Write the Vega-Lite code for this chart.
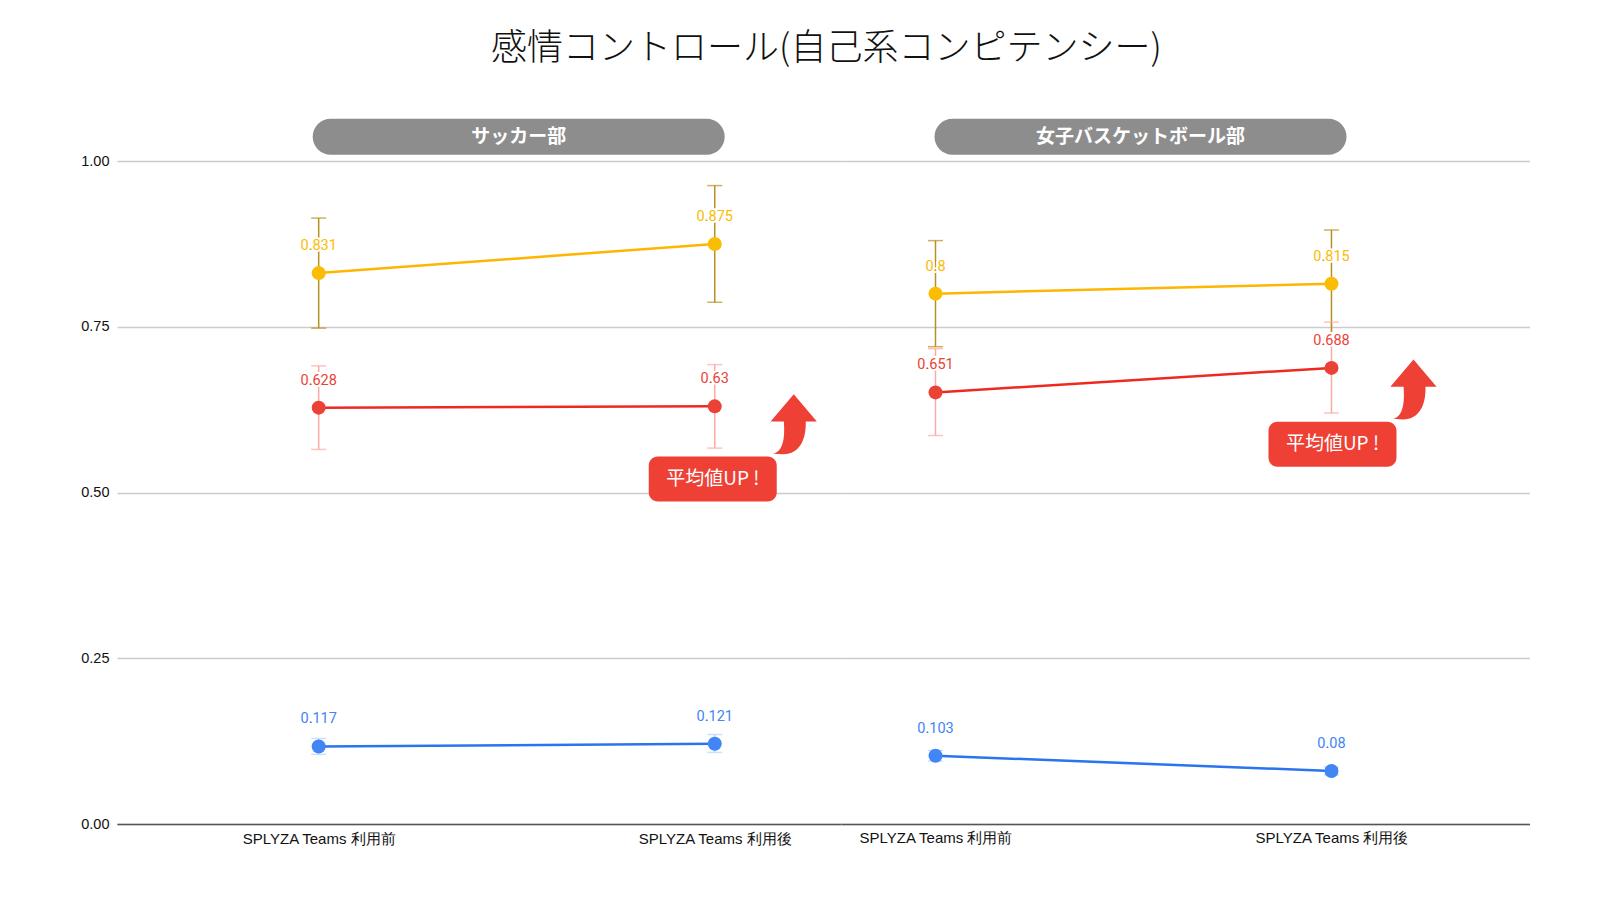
{
"$schema":"https://vega.github.io/schema/vega-lite/v6.json",
"background":"white",
"padding":{"left":80,"top":31,"right":0,"bottom":0},
"title":{"text":"感情コントロール(自己系コンピテンシー)","font":"Noto Sans CJK JP","fontSize":36,"fontWeight":300,"color":"#111111","anchor":"middle","offset":44,"dx":21},
"config":{"view":{"stroke":null},"concat":{"spacing":0},"axis":{"labelFont":"Liberation Sans"}},
"datasets":{"rows":[
{"team":"サッカー部","period":"SPLYZA Teams 利用前","series":"最小値","value":0.117,"low":0.105,"high":0.129},
{"team":"サッカー部","period":"SPLYZA Teams 利用後","series":"最小値","value":0.121,"low":0.108,"high":0.135},
{"team":"サッカー部","period":"SPLYZA Teams 利用前","series":"平均値","value":0.628,"low":0.565,"high":0.691},
{"team":"サッカー部","period":"SPLYZA Teams 利用後","series":"平均値","value":0.63,"low":0.567,"high":0.693},
{"team":"サッカー部","period":"SPLYZA Teams 利用前","series":"最大値","value":0.831,"low":0.748,"high":0.914},
{"team":"サッカー部","period":"SPLYZA Teams 利用後","series":"最大値","value":0.875,"low":0.787,"high":0.963},
{"team":"女子バスケットボール部","period":"SPLYZA Teams 利用前","series":"最小値","value":0.103,"low":0.095,"high":0.111},
{"team":"女子バスケットボール部","period":"SPLYZA Teams 利用後","series":"最小値","value":0.08,"low":0.074,"high":0.086},
{"team":"女子バスケットボール部","period":"SPLYZA Teams 利用前","series":"平均値","value":0.651,"low":0.586,"high":0.717},
{"team":"女子バスケットボール部","period":"SPLYZA Teams 利用後","series":"平均値","value":0.688,"low":0.62,"high":0.757},
{"team":"女子バスケットボール部","period":"SPLYZA Teams 利用前","series":"最大値","value":0.8,"low":0.72,"high":0.88},
{"team":"女子バスケットボール部","period":"SPLYZA Teams 利用後","series":"最大値","value":0.815,"low":0.733,"high":0.896}
]},
"hconcat":[
{"width":724,"height":712,
"encoding":{
"x":{"field":"period","type":"ordinal","title":null,"scale":{"type":"point","domain":["SPLYZA Teams 利用前","SPLYZA Teams 利用後"],"padding":0.414,"align":0.615},"axis":{"labelAngle":0,"labelFontSize":15,"labelColor":"#111111","labelPadding":7,"ticks":false,"grid":false,"domain":true,"domainColor":"#555555","domainWidth":1.5,"labelFont":"Liberation Sans"}},
"y":{"type":"quantitative","title":null,"scale":{"domain":[0,1.074],"nice":false},"axis":{"values":[0,0.25,0.5,0.75,1],"format":".2f","labelFontSize":14.5,"labelColor":"#111111","labelPadding":8,"ticks":false,"domain":false,"gridColor":"#cccccc","gridWidth":1.5}}
},
"layer":[
{"data":{"name":"rows"},"transform":[{"filter":"datum.team==='サッカー部'"}],
"layer":[
{"mark":{"type":"rule","strokeWidth":1.5},"encoding":{"y":{"field":"low","type":"quantitative"},"y2":{"field":"high"},"color":{"condition":[{"test":"datum.series==='最大値'","value":"#B8901F"},{"test":"datum.series==='平均値'","value":"#FBAAA4"}],"value":"#BAD2FA"}}},
{"mark":{"type":"tick","size":15,"thickness":1.5},"encoding":{"y":{"field":"low","type":"quantitative"},"color":{"condition":[{"test":"datum.series==='最大値'","value":"#B8901F"},{"test":"datum.series==='平均値'","value":"#FBAAA4"}],"value":"#BAD2FA"}}},
{"mark":{"type":"tick","size":15,"thickness":1.5},"encoding":{"y":{"field":"high","type":"quantitative"},"color":{"condition":[{"test":"datum.series==='最大値'","value":"#B8901F"},{"test":"datum.series==='平均値'","value":"#FBAAA4"}],"value":"#BAD2FA"}}},
{"mark":{"type":"line","strokeWidth":2.5},"encoding":{"y":{"field":"value","type":"quantitative"},"detail":{"field":"series"},"stroke":{"field":"series","type":"nominal","legend":null,"scale":{"domain":["最小値","平均値","最大値"],"range":["#2B74F0","#EE2A1E","#FFB600"]}}}},
{"mark":{"type":"circle","size":196,"opacity":1},"encoding":{"y":{"field":"value","type":"quantitative"},"color":{"field":"series","type":"nominal","title":null,"scale":{"domain":["最小値","平均値","最大値"],"range":["#4285F4","#EA4335","#FBBC04"]},"legend":{"orient":"none","legendX":580,"legendY":62,"direction":"horizontal","symbolType":"circle","symbolSize":196,"labelFont":"Noto Sans CJK JP","labelFontSize":15,"labelColor":"#333333","labelOffset":9,"columnPadding":18,"symbolStrokeWidth":0}}}},
{"mark":{"type":"text","dy":-27,"font":"Roboto","fontSize":14.5,"stroke":"white","strokeWidth":4},"encoding":{"y":{"field":"value","type":"quantitative"},"text":{"field":"value","type":"quantitative"}}},
{"mark":{"type":"text","dy":-27,"font":"Roboto","fontSize":14.5},"encoding":{"y":{"field":"value","type":"quantitative"},"text":{"field":"value","type":"quantitative"},"color":{"field":"series","type":"nominal"}}}
]},
{"data":{"values":[{"label":"サッカー部"}]},"layer":[
{"mark":{"type":"rect","width":412,"height":36,"cornerRadius":18,"color":"#8E8D8D","xOffset":200},"encoding":{"x":{"datum":"SPLYZA Teams 利用前"},"y":{"datum":1.0366}}},
{"mark":{"type":"text","font":"Noto Sans CJK JP","fontSize":19,"fontWeight":"bold","color":"white","xOffset":200},"encoding":{"x":{"datum":"SPLYZA Teams 利用前"},"y":{"datum":1.0366},"text":{"field":"label"}}}
]},
{"data":{"values":[{"label":"平均値UP !"}]},"layer":[
{"mark":{"type":"rect","width":128,"height":45,"cornerRadius":9,"color":"#EE4035","xOffset":-2},"encoding":{"x":{"datum":"SPLYZA Teams 利用後"},"y":{"datum":0.5205}}},
{"mark":{"type":"text","font":"Noto Sans CJK JP","fontSize":19,"color":"white","xOffset":-2},"encoding":{"x":{"datum":"SPLYZA Teams 利用後"},"y":{"datum":0.5205},"text":{"field":"label"}}},
{"mark":{"type":"point","filled":true,"opacity":1,"color":"#EE4035","size":3600,"xOffset":79,"shape":"M0,-1 L0.77,-0.09 L0.4,-0.09 C0.42,0.5 0.2,1.0 -0.35,1 L-0.68,0.98 C-0.3,0.9 -0.3,0.3 -0.33,-0.09 L-0.77,-0.09 Z"},"encoding":{"x":{"datum":"SPLYZA Teams 利用後"},"y":{"datum":0.603}}}
]}
]},
{"width":689,"height":712,
"encoding":{
"x":{"field":"period","type":"ordinal","title":null,"scale":{"type":"point","domain":["SPLYZA Teams 利用前","SPLYZA Teams 利用後"],"padding":0.37,"align":0.3225},"axis":{"labelAngle":0,"labelFontSize":15,"labelColor":"#111111","labelPadding":6,"ticks":false,"grid":false,"domain":true,"domainColor":"#555555","domainWidth":1.5,"labelFont":"Liberation Sans"}},
"y":{"type":"quantitative","title":null,"scale":{"domain":[0,1.074],"nice":false},"axis":{"values":[0,0.25,0.5,0.75,1],"labels":false,"ticks":false,"domain":false,"gridColor":"#cccccc","gridWidth":1.5}}
},
"layer":[
{"data":{"name":"rows"},"transform":[{"filter":"datum.team==='女子バスケットボール部'"}],
"layer":[
{"mark":{"type":"rule","strokeWidth":1.5},"encoding":{"y":{"field":"low","type":"quantitative"},"y2":{"field":"high"},"color":{"condition":[{"test":"datum.series==='最大値'","value":"#B8901F"},{"test":"datum.series==='平均値'","value":"#FBAAA4"}],"value":"#BAD2FA"}}},
{"mark":{"type":"tick","size":15,"thickness":1.5},"encoding":{"y":{"field":"low","type":"quantitative"},"color":{"condition":[{"test":"datum.series==='最大値'","value":"#B8901F"},{"test":"datum.series==='平均値'","value":"#FBAAA4"}],"value":"#BAD2FA"}}},
{"mark":{"type":"tick","size":15,"thickness":1.5},"encoding":{"y":{"field":"high","type":"quantitative"},"color":{"condition":[{"test":"datum.series==='最大値'","value":"#B8901F"},{"test":"datum.series==='平均値'","value":"#FBAAA4"}],"value":"#BAD2FA"}}},
{"mark":{"type":"line","strokeWidth":2.5},"encoding":{"y":{"field":"value","type":"quantitative"},"detail":{"field":"series"},"stroke":{"field":"series","type":"nominal"}}},
{"mark":{"type":"circle","size":196,"opacity":1},"encoding":{"y":{"field":"value","type":"quantitative"},"color":{"field":"series","type":"nominal"}}},
{"mark":{"type":"text","dy":-27,"font":"Roboto","fontSize":14.5,"stroke":"white","strokeWidth":4},"encoding":{"y":{"field":"value","type":"quantitative"},"text":{"field":"value","type":"quantitative"}}},
{"mark":{"type":"text","dy":-27,"font":"Roboto","fontSize":14.5},"encoding":{"y":{"field":"value","type":"quantitative"},"text":{"field":"value","type":"quantitative"},"color":{"field":"series","type":"nominal"}}}
]},
{"data":{"values":[{"label":"女子バスケットボール部"}]},"layer":[
{"mark":{"type":"rect","width":412,"height":36,"cornerRadius":18,"color":"#8E8D8D","xOffset":205},"encoding":{"x":{"datum":"SPLYZA Teams 利用前"},"y":{"datum":1.0366}}},
{"mark":{"type":"text","font":"Noto Sans CJK JP","fontSize":19,"fontWeight":"bold","color":"white","xOffset":205},"encoding":{"x":{"datum":"SPLYZA Teams 利用前"},"y":{"datum":1.0366},"text":{"field":"label"}}}
]},
{"data":{"values":[{"label":"平均値UP !"}]},"layer":[
{"mark":{"type":"rect","width":128,"height":45,"cornerRadius":9,"color":"#EE4035","xOffset":1},"encoding":{"x":{"datum":"SPLYZA Teams 利用後"},"y":{"datum":0.573}}},
{"mark":{"type":"text","font":"Noto Sans CJK JP","fontSize":19,"color":"white","xOffset":1},"encoding":{"x":{"datum":"SPLYZA Teams 利用後"},"y":{"datum":0.573},"text":{"field":"label"}}},
{"mark":{"type":"point","filled":true,"opacity":1,"color":"#EE4035","size":3600,"xOffset":82,"shape":"M0,-1 L0.77,-0.09 L0.4,-0.09 C0.42,0.5 0.2,1.0 -0.35,1 L-0.68,0.98 C-0.3,0.9 -0.3,0.3 -0.33,-0.09 L-0.77,-0.09 Z"},"encoding":{"x":{"datum":"SPLYZA Teams 利用後"},"y":{"datum":0.6556}}}
]}
]}
]
}
